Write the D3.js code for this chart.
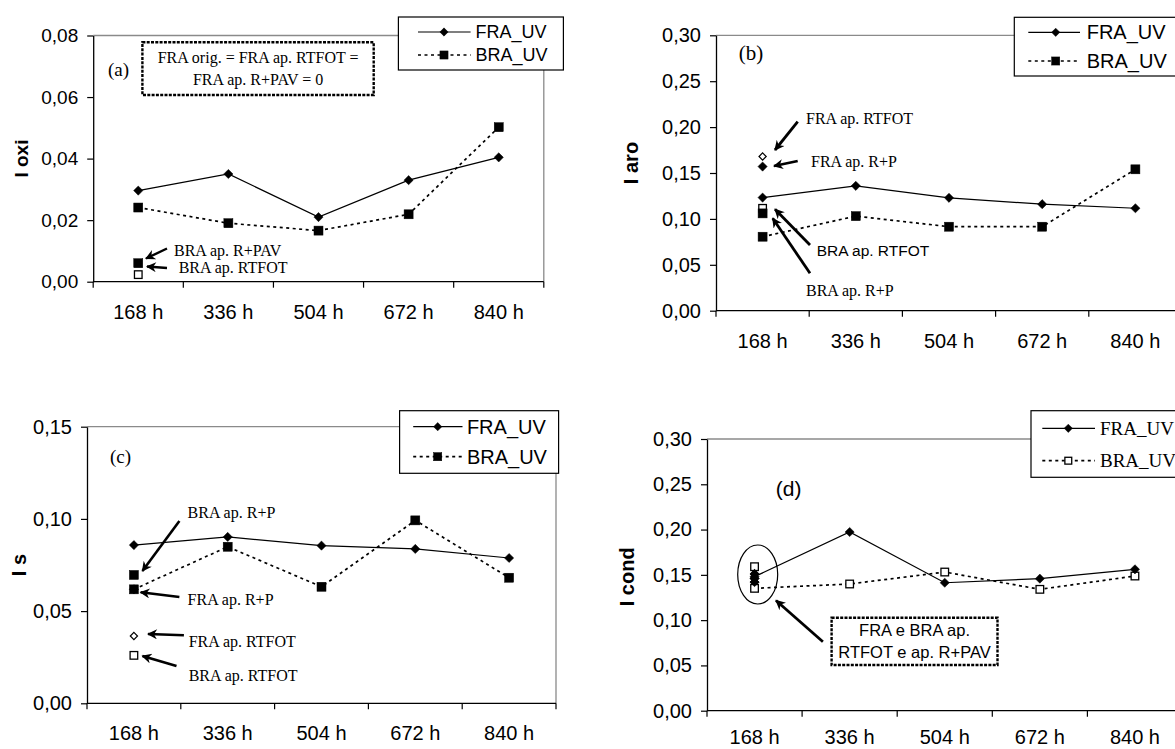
<!DOCTYPE html>
<html><head><meta charset="utf-8">
<script src="https://cdn.jsdelivr.net/npm/d3@7"></script>
<style>body{margin:0;background:#fff;} svg{display:block;}</style>
</head><body><svg id="c" width="1175" height="749"></svg>
<script>
// ---------------- DATA ----------------
const categories = ["168 h", "336 h", "504 h", "672 h", "840 h"];
const seriesNames = ["FRA_UV", "BRA_UV"];

// (a) I oxi
const oxiTicks = [0, 0.02, 0.04, 0.06, 0.08];
const oxiFRA = [0.0296, 0.0350, 0.0210, 0.0330, 0.0404];
const oxiBRA = [0.0241, 0.0190, 0.0166, 0.0219, 0.0502];
const oxiExtraNames = ["BRA ap. R+PAV", "BRA ap. RTFOT"];
const oxiExtraValues = [0.0060, 0.0023];

// (b) I aro
const aroTicks = [0, 0.05, 0.10, 0.15, 0.20, 0.25, 0.30];
const aroFRA = [0.1232, 0.1360, 0.1230, 0.1160, 0.1116];
const aroBRA = [0.0806, 0.1030, 0.0915, 0.0915, 0.1540];
const aroExtraNames = ["FRA ap. RTFOT", "FRA ap. R+P", "BRA ap. RTFOT", "BRA ap. R+P"];
const aroExtraValues = [0.1680, 0.1570, 0.1115, 0.1060];

// (c) I s
const sTicks = [0, 0.05, 0.10, 0.15];
const sFRA = [0.0858, 0.0902, 0.0855, 0.0837, 0.0788];
const sBRA = [0.0618, 0.0849, 0.0632, 0.0992, 0.0681];
const sExtraNames = ["FRA ap. R+P", "BRA ap. R+P", "FRA ap. RTFOT", "BRA ap. RTFOT"];
const sExtraValues = [0.0618, 0.0696, 0.0365, 0.0260];

// (d) I cond
const condTicks = [0, 0.05, 0.10, 0.15, 0.20, 0.25, 0.30];
const condFRA = [0.1480, 0.1973, 0.1413, 0.1458, 0.1561];
const condBRA = [0.1351, 0.1399, 0.1531, 0.1340, 0.1487];
const condExtraNames = ["BRA ap. RTFOT", "FRA ap. RTFOT", "FRA ap. R+PAV", "BRA ap. R+PAV"];
const condExtraValues = [0.1590, 0.1510, 0.1460, 0.1420];

// ---------------- DRAWING ----------------
const svg = d3.select("#c");
const SANS = "'Liberation Sans', Arial, sans-serif";
const SERIF = "'Liberation Serif', 'Times New Roman', serif";

const defs = svg.append("defs");
defs.append("marker").attr("id", "ah").attr("viewBox", "0 0 10 10")
  .attr("refX", 9).attr("refY", 5).attr("markerWidth", 11).attr("markerHeight", 10)
  .attr("markerUnits", "userSpaceOnUse").attr("orient", "auto")
  .append("path").attr("d", "M0,0 L10,5 L0,10 L3,5 z").attr("fill", "#000");

const fmt = v => d3.format(".2f")(v).replace(".", ",");

function marker(g, type, cx, cy, scale = 1) {
  if (type.startsWith("diamond")) {
    const h = (type === "diamond" ? 4.6 : 3.6) * scale;
    g.append("path").attr("d", `M${cx},${cy - h}L${cx + h},${cy}L${cx},${cy + h}L${cx - h},${cy}Z`)
      .attr("fill", type === "diamond" ? "#000" : "#fff").attr("stroke", "#000").attr("stroke-width", type === "diamond" ? 0.5 : 1.2);
  } else {
    const s = (type === "square" ? 9 : 7.6) * scale;
    g.append("rect").attr("x", cx - s / 2).attr("y", cy - s / 2).attr("width", s).attr("height", s)
      .attr("fill", type === "square" ? "#000" : "#fff").attr("stroke", "#000").attr("stroke-width", type === "square" ? 0.5 : 1.3);
  }
}

function panel(cfg) {
  const g = svg.append("g");
  const x = d3.scaleBand().domain(categories).range([cfg.left, cfg.right]);
  const y = d3.scaleLinear().domain([0, d3.max(cfg.ticks)]).range([cfg.bottom, cfg.top]);
  const cx = c => x(c) + x.bandwidth() / 2;

  // plot-area border (grey top/right)
  g.append("path").attr("d", `M${cfg.left},${cfg.top}H${cfg.right}V${cfg.bottom}`)
    .attr("fill", "none").attr("stroke", "#8a8a8a").attr("stroke-width", 1.3);

  // y axis
  g.append("g").attr("transform", `translate(${cfg.left},0)`)
    .call(d3.axisLeft(y).tickValues(cfg.ticks).tickFormat(fmt).tickSize(6).tickSizeOuter(0).tickPadding(9))
    .call(s => {
      s.attr("font-family", null).attr("font-size", null);
      s.select(".domain").attr("stroke", "#000").attr("stroke-width", 1.3);
      s.selectAll(".tick line").attr("stroke", "#000").attr("stroke-width", 1.2);
      s.selectAll(".tick text").attr("font-family", SANS).attr("font-size", cfg.tickFont).attr("fill", "#000");
    });

  // x axis
  const bounds = categories.map(c => x(c)).concat([x.range()[1]]);
  g.append("line").attr("x1", cfg.left).attr("x2", cfg.right).attr("y1", cfg.bottom).attr("y2", cfg.bottom)
    .attr("stroke", "#000").attr("stroke-width", 1.3);
  g.selectAll(".xt").data(bounds).enter().append("line")
    .attr("x1", d => d).attr("x2", d => d).attr("y1", cfg.bottom).attr("y2", cfg.bottom + 6)
    .attr("stroke", "#000").attr("stroke-width", 1.2);
  g.selectAll(".xl").data(categories).enter().append("text")
    .attr("x", d => cx(d)).attr("y", cfg.bottom + (cfg.xLabelOff || 30)).attr("dy", "0.35em")
    .attr("text-anchor", "middle").attr("font-family", SANS).attr("font-size", 20).text(d => d);

  // y title
  g.append("text").attr("transform", `translate(${cfg.titleX},${(cfg.top + cfg.bottom) / 2 + cfg.titleDy}) rotate(-90)`)
    .attr("text-anchor", "middle").attr("dy", "0.35em").attr("font-family", SANS).attr("font-weight", "bold")
    .attr("font-size", cfg.titleFont).text(cfg.title);

  // series lines
  const line = d3.line().x((d, i) => cx(categories[i])).y(d => y(d));
  g.append("path").datum(cfg.fra).attr("d", line).attr("fill", "none").attr("stroke", "#000").attr("stroke-width", 1.2);
  g.append("path").datum(cfg.bra).attr("d", line).attr("fill", "none").attr("stroke", "#000")
    .attr("stroke-width", 1.7).attr("stroke-dasharray", "3,3.5");

  // extra points at 168 h
  cfg.extraValues.forEach((v, i) => marker(g, cfg.extraMarkers[i], cx(categories[0]), y(v)));

  cfg.bra.forEach((v, i) => marker(g, cfg.braMarker, cx(categories[i]), y(v)));
  cfg.fra.forEach((v, i) => marker(g, "diamond", cx(categories[i]), y(v)));
  if (cfg.topMarkers) cfg.topMarkers.forEach(i => marker(g, cfg.extraMarkers[i], cx(categories[0]), y(cfg.extraValues[i])));

  // annotations
  (cfg.notes || []).forEach(n => {
    g.append("text").attr("x", n.x).attr("y", n.y).attr("dy", "0.35em").attr("font-family", n.sans ? SANS : SERIF)
      .attr("font-size", n.size || 16).text(n.text);
  });
  (cfg.arrows || []).forEach(a => {
    g.append("line").attr("x1", a[0]).attr("y1", a[1]).attr("x2", a[2]).attr("y2", a[3])
      .attr("stroke", "#000").attr("stroke-width", cfg.arrowW || 2.6).attr("marker-end", "url(#ah)");
  });
  if (cfg.box) {
    const b = cfg.box;
    g.append("rect").attr("x", b.x0).attr("y", b.y0).attr("width", b.x1 - b.x0).attr("height", b.y1 - b.y0)
      .attr("fill", "#fff").attr("stroke", "#000").attr("stroke-width", 2.4).attr("stroke-dasharray", "3,1.3");
    b.lines.forEach((t, i) => g.append("text").attr("x", (b.x0 + b.x1) / 2).attr("y", b.ly[i]).attr("dy", "0.35em")
      .attr("text-anchor", "middle").attr("font-family", b.sans ? SANS : SERIF).attr("font-size", b.size).text(t));
  }
  if (cfg.ellipse) {
    const e = cfg.ellipse;
    g.append("ellipse").attr("cx", e.cx).attr("cy", e.cy).attr("rx", e.rx).attr("ry", e.ry)
      .attr("fill", "none").attr("stroke", "#000").attr("stroke-width", 1.2);
  }
  // panel letter
  g.append("text").attr("x", cfg.letter.x).attr("y", cfg.letter.y).attr("dy", "0.35em").attr("text-anchor", "middle")
    .attr("font-family", cfg.letter.sans ? SANS : SERIF).attr("font-size", cfg.letter.size).text(cfg.letter.text);

  // legend
  const L = cfg.legend;
  g.append("rect").attr("x", L.x0).attr("y", L.y0).attr("width", L.x1 - L.x0).attr("height", L.y1 - L.y0)
    .attr("fill", "#fff").attr("stroke", "#000").attr("stroke-width", 1.2);
  seriesNames.forEach((name, i) => {
    const yy = L.items[i];
    g.append("line").attr("x1", L.l0).attr("x2", L.l1).attr("y1", yy).attr("y2", yy).attr("stroke", "#000")
      .attr("stroke-width", i === 0 ? 1.2 : 1.7).attr("stroke-dasharray", i === 0 ? null : "3,3.5");
    marker(g, i === 0 ? "diamond" : cfg.braMarker, L.m, yy, 0.9);
    g.append("text").attr("x", L.tx).attr("y", yy).attr("dy", "0.35em")
      .attr("font-family", L.serif ? SERIF : SANS).attr("font-size", L.size).text(name);
  });
}

panel({
  left: 93.2, right: 543.8, top: 35.5, bottom: 281.7, ticks: oxiTicks, tickFont: 19,
  title: "I oxi", titleX: 21.5, titleDy: 0, titleFont: 19,
  fra: oxiFRA, bra: oxiBRA, braMarker: "square",
  extraValues: oxiExtraValues, extraMarkers: ["square", "squareOpen"],
  notes: [{ text: oxiExtraNames[0], x: 174, y: 250 }, { text: oxiExtraNames[1], x: 178.7, y: 267 }],
  arrows: [[167, 248.5, 146, 258.5], [167, 268, 147, 266.5]], arrowW: 2.4,
  box: { x0: 142.4, x1: 373.7, y0: 42.3, y1: 95, lines: ["FRA orig. = FRA ap. RTFOT =", "FRA ap. R+PAV = 0"], ly: [57, 79], size: 16 },
  letter: { text: "(a)", x: 118.5, y: 69, size: 19 },
  legend: { x0: 398.4, x1: 563.4, y0: 17, y1: 70, items: [32, 55], l0: 418, l1: 470.6, m: 444, tx: 475.4, size: 18 }
});

panel({
  left: 716, right: 1182, top: 35.3, bottom: 310.7, ticks: aroTicks, tickFont: 20,
  title: "I aro", titleX: 631, titleDy: -10, titleFont: 20,
  fra: aroFRA, bra: aroBRA, braMarker: "square",
  extraValues: aroExtraValues, extraMarkers: ["diamondOpen", "diamond", "squareOpen", "square"],
  notes: [{ text: aroExtraNames[0], x: 806, y: 118.3 }, { text: aroExtraNames[1], x: 811, y: 161.7 },
          { text: aroExtraNames[2], x: 816.7, y: 250.7, sans: true, size: 15.5 }, { text: aroExtraNames[3], x: 806, y: 290 }],
  arrows: [[797.7, 121.7, 775, 150], [797.7, 161, 774, 166], [810, 245, 775, 209.3], [810, 273.3, 772.7, 218.3]], arrowW: 2.8,
  letter: { text: "(b)", x: 751, y: 53, size: 21 },
  legend: { x0: 1014.3, x1: 1200, y0: 17.3, y1: 76, items: [32.3, 61], l0: 1028.3, l1: 1080, m: 1055.7, tx: 1086.7, size: 20 }
});

panel({
  left: 87, right: 556, top: 426.7, bottom: 703.3, ticks: sTicks, tickFont: 20,
  title: "I s", titleX: 18.5, titleDy: 0, titleFont: 20,
  fra: sFRA, bra: sBRA, braMarker: "square",
  extraValues: sExtraValues, extraMarkers: ["diamond", "square", "diamondOpen", "squareOpen"],
  notes: [{ text: sExtraNames[1], x: 187.6, y: 512.7 }, { text: sExtraNames[0], x: 187.6, y: 599.3 },
          { text: sExtraNames[2], x: 188.7, y: 641 }, { text: sExtraNames[3], x: 188.7, y: 675 }],
  arrows: [[179.4, 521, 142.4, 571], [179.4, 597, 140.6, 592.3], [183.9, 635.3, 148, 634], [176.5, 666, 142.4, 656]], arrowW: 2.6,
  letter: { text: "(c)", x: 120.5, y: 456.7, size: 19 },
  legend: { x0: 399.6, x1: 558.6, y0: 410.7, y1: 473.3, items: [426.7, 456.7], l0: 413.2, l1: 462.5, m: 437.7, tx: 466.9, size: 20 }
});

panel({
  left: 707, right: 1182.5, top: 439, bottom: 710.7, ticks: condTicks, tickFont: 20, xLabelOff: 26.5,
  title: "I cond", titleX: 627.4, titleDy: 2, titleFont: 20,
  fra: condFRA, bra: condBRA, braMarker: "squareOpen",
  extraValues: condExtraValues, extraMarkers: ["squareOpen", "diamond", "diamond", "diamond"], topMarkers: [1, 2, 3],
  arrows: [[822.9, 641.7, 776, 600.5]], arrowW: 2.8,
  box: { x0: 831.6, x1: 997.5, y0: 617.7, y1: 665, lines: ["FRA e BRA ap.", "RTFOT e ap. R+PAV"], ly: [630.5, 652.5], size: 16.5, sans: true },
  ellipse: { cx: 757.7, cy: 574.5, rx: 20, ry: 29.5 },
  letter: { text: "(d)", x: 788.7, y: 488.3, size: 21, sans: true },
  legend: { x0: 1031, x1: 1200, y0: 410.7, y1: 477.3, items: [428.3, 460.7], l0: 1042.3, l1: 1095, m: 1068.3, tx: 1100, size: 19, serif: true }
});
</script>
</body></html>
